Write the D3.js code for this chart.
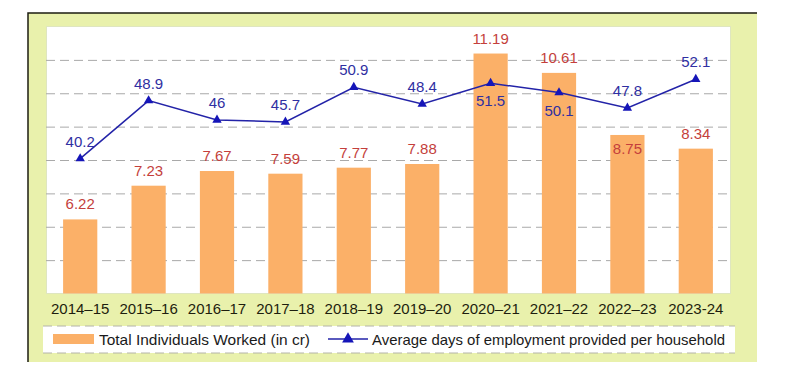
<!DOCTYPE html>
<html>
<head>
<meta charset="utf-8">
<script src="https://cdn.jsdelivr.net/npm/d3@7"></script>
<style>
  body { margin: 0; background: #fff; }
  svg { display: block; font-family: "Liberation Sans", Arial, sans-serif; }
</style>
</head>
<body>
<svg id="chart" width="800" height="375"></svg>
<script>
// data
const anos = ['2014–15', '2015–16', '2016–17', '2017–18', '2018–19', '2019–20', '2020–21', '2021–22', '2022–23', '2023-24'];
const individuos = [6.22, 7.23, 7.67, 7.59, 7.77, 7.88, 11.19, 10.61, 8.75, 8.34];
const diasMedios = [40.2, 48.9, 46, 45.7, 50.9, 48.4, 51.5, 50.1, 47.8, 52.1];
const legendas = ['Total Individuals Worked (in cr)', 'Average days of employment provided per household'];

// label placement exceptions
const barraRotuloDentro = ['2022–23'];
const linhaRotuloAbaixo = ['2020–21', '2021–22'];

const dados = anos.map((a, i) => ({ name: a, value_1: individuos[i], value_2: diasMedios[i] }));

const svg = d3.select('#chart');

// outer frame
svg.append('rect')
    .attr('x', 28).attr('y', 13)
    .attr('width', 729).attr('height', 349)
    .attr('fill', '#e9f1ac');
svg.append('path')
    .attr('d', 'M28,362V13H757')
    .attr('fill', 'none')
    .attr('stroke', '#1c1c10')
    .attr('stroke-width', 1.5);

const margin = { top: 26.5, left: 46, right: 70, bottom: 81.5 };
const width = 800 - margin.left - margin.right;
const height = 375 - margin.top - margin.bottom;

const chart = svg.append('g')
    .attr('transform', `translate(${margin.left}, ${margin.top})`);

// plot area
chart.append('rect')
    .attr('x', 0.5).attr('y', 0)
    .attr('width', width).attr('height', height)
    .attr('fill', '#fff')
    .attr('stroke', '#dfe6c0');

const xScale = d3.scaleBand()
    .range([0, width])
    .domain(anos)
    .paddingInner(0.5)
    .paddingOuter(0.25);

const yScale = d3.scaleLinear()
    .range([height, 0])
    .domain([4, 12]);

const y2Scale = d3.scaleLinear()
    .range([height, 0])
    .domain([20, 60]);

/*grid*/
chart.append('g')
    .attr('class', 'grid')
    .call(d3.axisLeft(yScale)
        .tickValues(d3.range(5, 12))
        .tickSize(-width)
        .tickFormat(''))
    .call(g => g.select('.domain').remove())
    .call(g => g.selectAll('line')
        .attr('stroke', '#a9a9a9')
        .attr('stroke-dasharray', '9,5'));

/*txt x axis*/
chart.append('g')
    .attr('transform', `translate(0, ${height})`)
    .call(d3.axisBottom(xScale).tickSize(0).tickPadding(10))
    .call(g => g.select('.domain').remove())
    .call(g => g.selectAll('text')
        .attr('font-size', 15)
        .attr('font-family', '"Liberation Sans", Arial, sans-serif')
        .attr('fill', '#1e1e0e'));

/*bars*/
chart.selectAll('.bar')
    .data(dados)
    .enter()
    .append('rect')
    .attr('class', 'bar')
    .attr('fill', '#fbb068')
    .attr('x', d => xScale(d.name))
    .attr('y', d => yScale(d.value_1))
    .attr('width', xScale.bandwidth())
    .attr('height', d => height - yScale(d.value_1));

chart.selectAll('.val1')
    .data(dados)
    .enter()
    .append('text')
    .attr('class', 'val1')
    .attr('fill', '#c43f3c')
    .attr('font-size', 15)
    .attr('text-anchor', 'middle')
    .attr('x', d => xScale(d.name) + xScale.bandwidth() / 2)
    .attr('y', d => barraRotuloDentro.includes(d.name) ? yScale(d.value_1) + 19 : yScale(d.value_1) - 10)
    .text(d => d.value_1);

/*line*/
const cx = d => xScale(d.name) + xScale.bandwidth() / 2;
chart.append('path')
    .datum(dados)
    .attr('fill', 'none')
    .attr('stroke', '#2323a8')
    .attr('stroke-width', 1.5)
    .attr('d', d3.line().x(cx).y(d => y2Scale(d.value_2)));

const tri = d3.symbol().type(d3.symbolTriangle).size(38);
chart.selectAll('.mark')
    .data(dados)
    .enter()
    .append('path')
    .attr('class', 'mark')
    .attr('fill', '#1515b8')
    .attr('transform', d => `translate(${cx(d)}, ${y2Scale(d.value_2)})`)
    .attr('d', tri);

chart.selectAll('.val2')
    .data(dados)
    .enter()
    .append('text')
    .attr('class', 'val2')
    .attr('fill', '#2f2fa2')
    .attr('font-size', 15)
    .attr('text-anchor', 'middle')
    .attr('x', cx)
    .attr('y', d => linhaRotuloAbaixo.includes(d.name) ? y2Scale(d.value_2) + 23 : y2Scale(d.value_2) - 12)
    .text(d => d.value_2);

/*legend*/
const leg = svg.append('g');
leg.append('rect')
    .attr('x', 43).attr('y', 326)
    .attr('width', 692).attr('height', 27)
    .attr('fill', '#fff');
leg.append('path')
    .attr('d', 'M43,326H735M43,353H735')
    .attr('stroke', '#b4b4a8')
    .attr('stroke-dasharray', '9,5');
leg.append('rect')
    .attr('x', 53).attr('y', 334)
    .attr('width', 41).attr('height', 10)
    .attr('fill', '#fbb068');
leg.append('text')
    .attr('x', 99).attr('y', 345)
    .attr('font-size', 15)
    .attr('fill', '#1a1a1a')
    .attr('textLength', 211)
    .attr('lengthAdjust', 'spacingAndGlyphs')
    .text(legendas[0]);
leg.append('line')
    .attr('x1', 328).attr('x2', 368)
    .attr('y1', 339).attr('y2', 339)
    .attr('stroke', '#2323a8')
    .attr('stroke-width', 1.5);
leg.append('path')
    .attr('transform', 'translate(348, 339)')
    .attr('fill', '#1515b8')
    .attr('d', d3.symbol().type(d3.symbolTriangle).size(60));
leg.append('text')
    .attr('x', 372).attr('y', 345)
    .attr('font-size', 15)
    .attr('fill', '#1a1a1a')
    .attr('textLength', 353)
    .attr('lengthAdjust', 'spacingAndGlyphs')
    .text(legendas[1]);
</script>
</body>
</html>
